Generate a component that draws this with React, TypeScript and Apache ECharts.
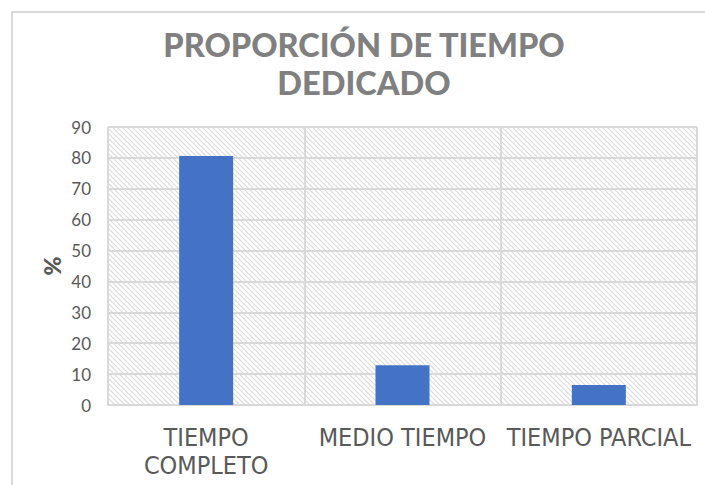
import React, { useEffect, useRef } from "react";
import * as echarts from "echarts";

const titleText = "PROPORCIÓN DE TIEMPO\nDEDICADO";
const categories = ["TIEMPO\nCOMPLETO", "MEDIO TIEMPO", "TIEMPO PARCIAL"];
const values = [80.6, 12.9, 6.5];
const yAxisName = "%";
const yMin = 0;
const yMax = 90;
const yInterval = 10;

function makeHatch(): HTMLCanvasElement {
  const c = document.createElement("canvas");
  const s = 5;
  c.width = s;
  c.height = s;
  const ctx = c.getContext("2d")!;
  ctx.fillStyle = "#ffffff";
  ctx.fillRect(0, 0, s, s);
  ctx.strokeStyle = "#dadada";
  ctx.lineWidth = 1.1;
  ctx.beginPath();
  ctx.moveTo(-1, -1);
  ctx.lineTo(s + 1, s + 1);
  ctx.moveTo(-1 - s, -1);
  ctx.lineTo(1, s + 1);
  ctx.moveTo(s - 1, -1);
  ctx.lineTo(2 * s + 1, s + 1);
  ctx.stroke();
  return c;
}

export default function App() {
  const ref = useRef<HTMLDivElement>(null);
  useEffect(() => {
    document.body.style.margin = "0";
    const chart = echarts.init(ref.current!, null, { renderer: "svg" });
    const hatch = makeHatch();
    chart.setOption({
      animation: false,
      backgroundColor: "#ffffff",
      title: {
        text: titleText,
        left: 359,
        top: 20,
        textAlign: "center",
        textStyle: {
          fontFamily: "Lato",
          fontWeight: 900,
          fontSize: 32.5,
          lineHeight: 38,
          color: "#808080",
        },
      },
      graphic: [
        {
          type: "rect",
          shape: { x: 12, y: 12, width: 800, height: 600 },
          style: { fill: "none", stroke: "#d9d9d9", lineWidth: 2 },
          silent: true,
        },
      ],
      grid: {
        left: 108,
        right: 8,
        top: 127,
        bottom: 80,
        show: true,
        borderWidth: 0,
        backgroundColor: { image: hatch, repeat: "repeat" },
      },
      xAxis: {
        type: "category",
        data: categories,
        axisLine: { show: true, lineStyle: { color: "#d9d9d9", width: 2 } },
        axisTick: { show: false },
        splitLine: { show: true, lineStyle: { color: "#d9d9d9", width: 2 } },
        axisLabel: {
          color: "#595959",
          fontFamily: "'Liberation Sans Narrow', 'DejaVu Sans Condensed', sans-serif",
          fontSize: 25,
          lineHeight: 28,
          margin: 18,
          interval: 0,
        },
      },
      yAxis: {
        type: "value",
        min: yMin,
        max: yMax,
        interval: yInterval,
        name: yAxisName,
        nameLocation: "middle",
        nameRotate: 90,
        nameGap: 45,
        nameMoveOverlap: false,
        nameTextStyle: {
          color: "#595959",
          fontFamily: "Lato",
          fontWeight: 900,
          fontSize: 23,
        },
        axisLine: { show: false },
        axisTick: { show: false },
        splitLine: { show: true, lineStyle: { color: "#d9d9d9", width: 2 } },
        axisLabel: {
          color: "#595959",
          fontFamily: "Lato",
          fontSize: 17,
          margin: 17,
        },
      },
      series: [
        {
          type: "bar",
          data: values,
          barWidth: 54,
          itemStyle: { color: "#4472c4" },
        },
      ],
    });
    return () => chart.dispose();
  }, []);
  return <div ref={ref} style={{ width: 705, height: 485 }} />;
}
